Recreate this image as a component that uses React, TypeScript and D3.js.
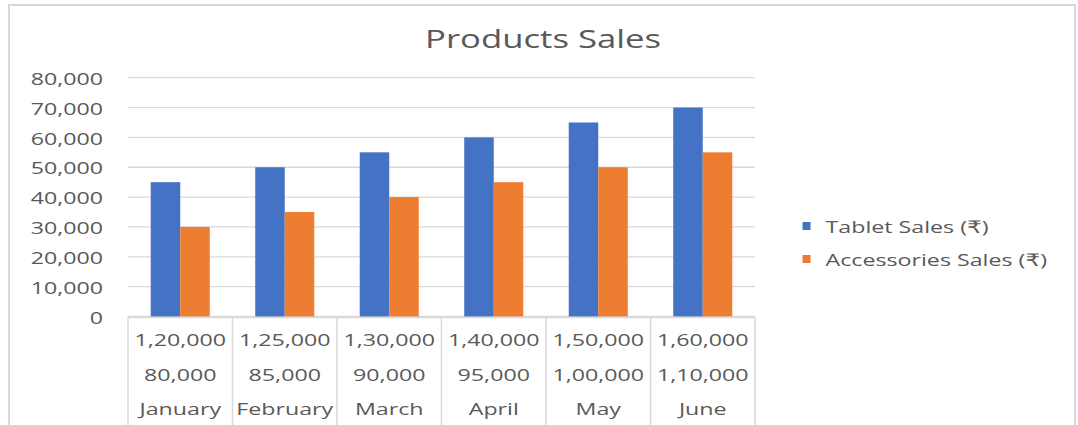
import React from "react";
import * as d3 from "d3";

const months = ["January", "February", "March", "April", "May", "June"];
const targetLabels = ["1,20,000", "1,25,000", "1,30,000", "1,40,000", "1,50,000", "1,60,000"];
const salesLabels = ["80,000", "85,000", "90,000", "95,000", "1,00,000", "1,10,000"];
const seriesNames = ["Tablet Sales (₹)", "Accessories Sales (₹)"];
const tabletSales = [45000, 50000, 55000, 60000, 65000, 70000];
const accessoriesSales = [30000, 35000, 40000, 45000, 50000, 55000];
const yTicks = [0, 10000, 20000, 30000, 40000, 50000, 60000, 70000, 80000];
const colors = ["#4472C4", "#ED7D31"];

const W = 1078;
const H = 425;
const SX = 1.35;
const FONT = "'Open Sans', 'DejaVu Sans', sans-serif";
const TEXT = "#595959";
const GRID = "#D9D9D9";

export default function App() {
  const plotLeft = 128;
  const plotRight = 755;
  const y = d3.scaleLinear().domain([0, 80000]).range([316.5, 77.7]);
  const x0 = d3.scaleBand<string>().domain(months).range([plotLeft, plotRight]).padding(0);
  const groupW = x0.bandwidth() * 0.565;
  const x1 = d3.scaleBand<string>().domain(seriesNames).range([0, groupW]).padding(0);
  const fmt = d3.format(",");
  const series = [tabletSales, accessoriesSales];
  const base = y(0);

  const txt = (x: number, yy: number, s: string, size: number, anchor: string, key?: string) => (
    <text
      key={key}
      transform={`translate(${x},${yy}) scale(${SX},1)`}
      textAnchor={anchor}
      dominantBaseline="central"
      fontSize={size}
      fontFamily={FONT}
      fill={TEXT}
    >
      {s}
    </text>
  );

  return (
    <svg width={W} height={H} style={{ position: "absolute", left: 0, top: 0 }}>
      <rect x={0} y={0} width={W} height={H} fill="#fff" />
      <rect x={9} y={5} width={1066} height={440} fill="none" stroke={GRID} strokeWidth={2} />
      {txt(543, 38, "Products Sales", 25.7, "middle")}
      {yTicks.map((t) => (
        <g key={t}>
          <line x1={plotLeft} x2={plotRight} y1={y(t)} y2={y(t)} stroke={GRID} strokeWidth={1.3} />
          {txt(103, y(t) + 0.5, fmt(t), 17.2, "end")}
        </g>
      ))}
      {months.map((m, i) => (
        <g key={m}>
          {series.map((vals, s) => (
            <rect
              key={s}
              x={(x0(m) as number) + (x0.bandwidth() - groupW) / 2 + (x1(seriesNames[s]) as number)}
              y={y(vals[i])}
              width={x1.bandwidth()}
              height={base - y(vals[i])}
              fill={colors[s]}
            />
          ))}
        </g>
      ))}
      <line x1={plotLeft} x2={plotRight} y1={317.5} y2={317.5} stroke={GRID} strokeWidth={1.5} />
      {[...months.map((m) => x0(m) as number), plotRight].map((xv, i) => (
        <line key={i} x1={xv} x2={xv} y1={317} y2={H} stroke={GRID} strokeWidth={1.5} />
      ))}
      {months.map((m, i) => {
        const cx = (x0(m) as number) + x0.bandwidth() / 2;
        return (
          <g key={m}>
            {txt(cx, 339, targetLabels[i], 17.2, "middle")}
            {txt(cx, 374, salesLabels[i], 17.2, "middle")}
            {txt(cx, 408, m, 17.2, "middle")}
          </g>
        );
      })}
      {seriesNames.map((n, i) => (
        <g key={n}>
          <rect x={802.5} y={222 + i * 33} width={8} height={8} fill={colors[i]} />
          {txt(825.5, 226 + i * 33, n, 17.2, "start")}
        </g>
      ))}
    </svg>
  );
}
